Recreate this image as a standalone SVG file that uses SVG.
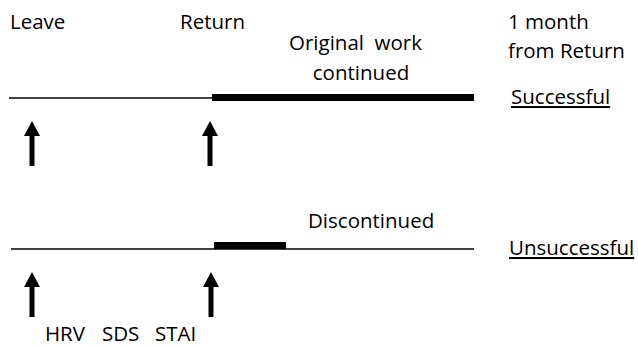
<svg xmlns="http://www.w3.org/2000/svg" width="638" height="346" viewBox="0 0 638 346">
<style>
text{font-family:"Open Sans","Liberation Sans",sans-serif;font-size:20.5px;fill:#000}
.thin{stroke:#000;stroke-width:1.5;fill:none}
.u{text-decoration:underline}
</style>
<defs>
<g id="arrow"><rect x="-2.5" y="13" width="5" height="32" fill="#000"/><polygon points="0,0 8,15 -8,15" fill="#000"/></g>
</defs>
<rect width="638" height="346" fill="#fff"/>
<g id="connectors">
<line class="thin" x1="9" y1="98" x2="474" y2="98"/>
<rect x="212" y="94" width="262" height="7" fill="#000"/>
<line class="thin" x1="11" y1="249" x2="474" y2="249"/>
<rect x="214" y="242" width="72" height="7" fill="#000"/>
<use href="#arrow" x="32" y="121"/>
<use href="#arrow" x="210" y="121"/>
<use href="#arrow" x="32" y="272"/>
<use href="#arrow" x="211" y="272"/>
</g>
<g id="labels-top">
<text x="10" y="29">Leave</text>
<text x="180" y="29">Return</text>
<text x="289" y="50" xml:space="preserve">Original  work</text>
<text x="361" y="80" text-anchor="middle">continued</text>
<text x="508" y="29">1 month</text>
<text x="508" y="58">from Return</text>
<text x="511" y="104" class="u">Successful</text>
</g>
<g id="labels-bottom">
<text x="308" y="228">Discontinued</text>
<text x="509" y="255" class="u">Unsuccessful</text>
<text x="45" y="341">HRV</text>
<text x="102" y="341">SDS</text>
<text x="155" y="341">STAI</text>
</g>
</svg>
